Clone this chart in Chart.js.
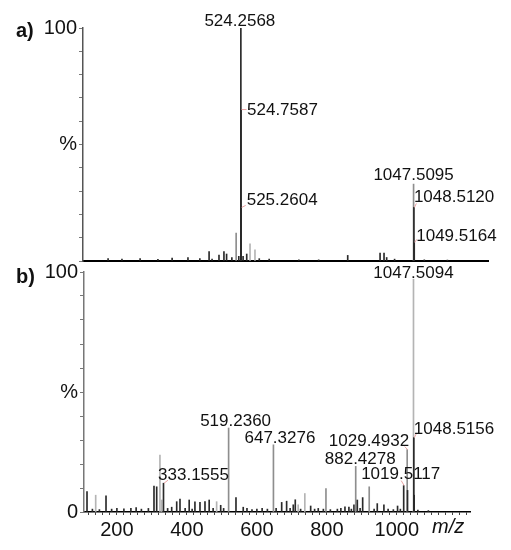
<!DOCTYPE html>
<html>
<head>
<meta charset="utf-8">
<script src="https://cdn.jsdelivr.net/npm/chart.js@4.4.1/dist/chart.umd.min.js"></script>
<style>
  body { margin: 0; background: #fff; width: 511px; height: 550px; position: relative; overflow: hidden; }
  canvas { position: absolute; left: 0; }
  #specA { top: 0; }
  #specB { top: 255px; }
</style>
</head>
<body>
<canvas id="specA" width="511" height="275"></canvas>
<canvas id="specB" width="511" height="295"></canvas>
<script>
// panel a) peaks (m/z, relative intensity %)
const mzA = [122, 164, 219, 273, 316, 364, 400, 428, 437, 458, 473, 481, 497, 510, 518,
  524.2568, 524.7587, 525.2604, 531, 542, 552, 567, 580, 610, 700, 760, 848, 946, 958, 966, 990,
  1047.5095, 1048.5120, 1049.5164, 1080, 1150];
const intA = [1, 0.8, 1, 0.7, 1.2, 1.5, 1, 4, 0.8, 2.5, 4, 3, 1.5, 12, 2,
  100, 65, 23, 2, 3, 7.4, 4.8, 1, 0.8, 0.5, 0.5, 2.4, 3.4, 3.4, 1.5, 0.8,
  33, 23, 8, 0.5, 0.4];
const labelsA = ['524.2568', '524.7587', '525.2604', '1047.5095', '1048.5120', '1049.5164'];

// panel b) peaks
const mzB = [114.6, 130, 139.4, 150, 168.9, 185, 200, 220, 240, 255, 270, 290, 306, 313.7, 323, 328,
  333.1555, 345, 356.6, 370.9, 380.3, 395, 406.6, 415, 423, 437.4, 451.7, 463.7, 475, 485, 496.6, 505,
  519.2360, 540.3, 561, 571.7, 586, 600, 615, 630, 647.3276, 655, 670.9, 685, 695, 704, 709.7, 718,
  725, 737, 753.7, 765, 775.4, 790, 797.4, 810, 830, 840, 851.7, 863, 870, 877.4, 882.4278, 887,
  895, 902.3, 921, 935, 944, 963, 975, 990, 1002, 1010, 1019.5117, 1029.4932, 1030.5,
  1047.5094, 1048.5156, 1049.5, 1060, 1090];
const intB = [8.5, 1.2, 7, 1, 6.7, 1.2, 1.5, 1.3, 1.5, 1.8, 1.2, 1.5, 10.8, 10.5, 23.7, 5,
  12, 1.5, 2, 4.3, 5.4, 1.5, 5, 1.2, 4.2, 4, 4.3, 5, 1.5, 4.3, 2.8, 1.5,
  35, 6, 2, 1.5, 1, 1.2, 1.5, 1.2, 28, 1.5, 4, 4.5, 1.5, 3, 5.1, 3,
  1.2, 7.7, 2.5, 1.2, 1.5, 1.2, 9.8, 1, 1.2, 1.5, 2.2, 2, 1.2, 3, 19, 5,
  1.5, 6, 10.5, 1.2, 3.5, 3, 1.2, 1, 2.5, 1.2, 11, 26, 9,
  97, 31, 7, 0.8, 0.6];
const labelsB = ['1047.5094', '1048.5156', '1029.4932', '882.4278', '1019.5117', '647.3276', '519.2360', '333.1555'];
const xTickLabelsB = [200, 400, 600, 800, 1000];

// which peaks are drawn in grey instead of black
const greyA = [510, 1047.5095];
const paleA = [552, 567];
const greyB = [519.2360, 647.3276, 882.4278, 1029.4932, 797.4, 921];
const paleB = [1047.5094, 139.4, 323, 328, 485, 718, 737];

// label placement: [align, dx, dy, leader]
const placeA = {
  '524.2568': ['center', -1, -2, null],
  '524.7587': ['left', 6, 5, [5, 0]],
  '525.2604': ['left', 5.5, -2, [4, -2]],
  '1047.5095': ['center', 0, -4, null],
  '1048.5120': ['left', 0, -5, [2, -4]],
  '1049.5164': ['left', 2, -1.5, [2, -3]]
};
const placeB = {
  '1047.5094': ['center', 0, -1, null],
  '1048.5156': ['left', 0, -4, [2, -4]],
  '1029.4932': ['right', 2, -4, [-3, -3]],
  '882.4278': ['center', 4.5, -2, null],
  '1019.5117': ['center', -3, -7, [-3, -5]],
  '647.3276': ['center', 6.5, -2, null],
  '519.2360': ['center', 7, -2, null],
  '333.1555': ['center', 30, -3, [4, -3]]
};

const FONT = '"Liberation Sans", Arial, sans-serif';
Chart.defaults.font.family = FONT;
Chart.defaults.color = '#111';

function tone(m, grey, pale) {
  if (pale.includes(m)) return '#b4b4b4';
  if (grey.includes(m)) return '#8e8e8e';
  return '#2a2a2a';
}

function textPlugin(mz, inten, labels, place, tag, tagY, extra) {
  return {
    id: 'peakText',
    afterDatasetsDraw(chart) {
      const { ctx, scales: { x, y } } = chart;
      ctx.save();
      ctx.font = '17px ' + FONT;
      ctx.fillStyle = '#111';
      ctx.textBaseline = 'alphabetic';
      labels.forEach(txt => {
        const m = parseFloat(txt);
        const i = mz.indexOf(m);
        const px = x.getPixelForValue(m);
        const py = y.getPixelForValue(inten[i]);
        const [align, dx, dy, lead] = place[txt];
        if (lead) {
          ctx.strokeStyle = '#e9a3a3';
          ctx.lineWidth = 1;
          ctx.beginPath();
          ctx.moveTo(px + 0.5, py);
          ctx.lineTo(px + 0.5 + lead[0], py + lead[1]);
          ctx.stroke();
        }
        ctx.textAlign = align;
        ctx.fillText(txt, px + dx, py + dy);
      });
      ctx.textAlign = 'left';
      ctx.font = 'bold 20px ' + FONT;
      ctx.fillText(tag, 16, tagY);
      if (extra) extra(ctx);
      ctx.restore();
    }
  };
}

function spectrum(id, mz, inten, o) {
  return new Chart(document.getElementById(id), {
    type: 'bar',
    data: {
      datasets: [{
        data: mz.map((m, i) => ({ x: m, y: inten[i] })),
        backgroundColor: mz.map(m => tone(m, o.grey, o.pale)),
        barThickness: 1,
        borderWidth: 0
      }]
    },
    options: {
      responsive: false,
      animation: false,
      devicePixelRatio: 1,
      layout: { padding: o.padding },
      plugins: { legend: { display: false }, tooltip: { enabled: false } },
      scales: {
        x: o.xScale,
        y: {
          min: 0,
          max: 100,
          afterFit: s => { s.width = o.yWidth; },
          border: { color: o.yColor, width: 1.5 },
          grid: { drawOnChartArea: false, tickLength: 4, color: '#777' },
          ticks: {
            stepSize: 10,
            autoSkip: false,
            padding: 2,
            color: '#111',
            font: { size: 20 },
            callback: v => v === 100 ? '100' : v === 50 ? '%' : (v === 0 && o.zero) ? '0' : ''
          }
        }
      }
    },
    plugins: [o.plugin]
  });
}

spectrum('specA', mzA, intA, {
  grey: greyA, pale: paleA, yWidth: 83, yColor: '#555', zero: false,
  padding: { top: 28, right: 23, bottom: 12, left: 0 },
  xScale: {
    type: 'linear', min: 46, max: 1273, offset: false,
    afterFit: s => { s.height = 0; },
    border: { color: '#000', width: 2 },
    grid: { display: false, offset: false },
    ticks: { display: false }
  },
  plugin: textPlugin(mzA, intA, labelsA, placeA, 'a)', 37)
});

spectrum('specB', mzB, intB, {
  grey: greyB, pale: paleB, yWidth: 84, yColor: '#777', zero: true,
  padding: { top: 17, right: 41, bottom: 0, left: 0 },
  xScale: {
    type: 'linear', min: 106, max: 1209, offset: false,
    afterBuildTicks: s => {
      const t = [];
      for (let v = 120; v <= 1200; v += 20) t.push({ value: v });
      s.ticks = t;
    },
    afterFit: s => { s.height = 38; },
    border: { color: '#000', width: 1.5 },
    grid: { drawOnChartArea: false, tickLength: 3, color: '#444', offset: false },
    ticks: {
      autoSkip: false, maxRotation: 0, minRotation: 0, padding: 3,
      color: '#111', font: { size: 20 },
      callback: v => xTickLabelsB.includes(v) ? String(v) : ''
    }
  },
  plugin: textPlugin(mzB, intB, labelsB, placeB, 'b)', 28, ctx => {
    ctx.font = 'italic 20px ' + FONT;
    ctx.fillText('m/z', 432, 278);
  })
});
</script>
</body>
</html>
